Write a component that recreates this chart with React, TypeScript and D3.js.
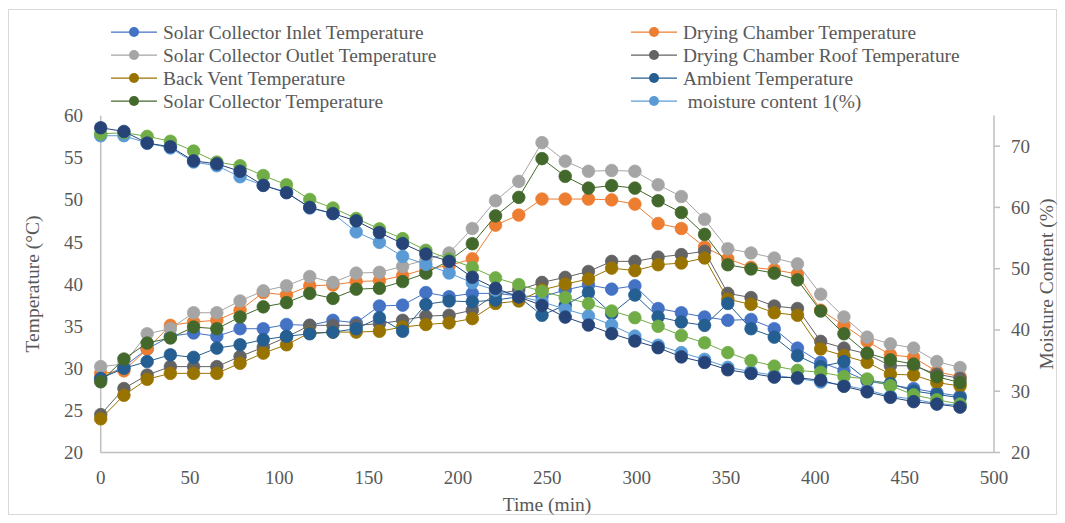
import React from 'react';
import * as d3 from 'd3';

// time axis (min)
const times = [0, 13, 26, 39, 52, 65, 78, 91, 104, 117, 130, 143, 156, 169, 182, 195, 208, 221, 234, 247,
  260, 273, 286, 299, 312, 325, 338, 351, 364, 377, 390, 403, 416, 429, 442, 455, 468, 481];

// temperatures (°C), left axis
const inletTemp = [28.8, 30.2, 32.3, 33.8, 34.2, 33.8, 34.7, 34.7, 35.2, 35.1, 35.7, 35.4, 37.4, 37.5, 39.0, 38.5, 38.9, 38.9, 38.6, 38.5,
  39.3, 39.9, 39.4, 39.8, 37.1, 36.6, 36.1, 35.7, 35.8, 34.7, 32.4, 30.7, 29.7, 28.5, 28.0, 27.6, 27.1, 26.7];
const chamberTemp = [29.4, 29.7, 32.3, 35.1, 35.5, 35.7, 36.9, 39.0, 38.7, 39.8, 39.9, 40.3, 40.4, 41.0, 41.8, 42.2, 43.0, 47.0, 48.2, 50.1,
  50.1, 50.1, 50.0, 49.5, 47.2, 46.6, 44.4, 43.0, 42.0, 41.7, 41.2, 36.9, 35.1, 33.2, 31.6, 31.3, 29.6, 29.0];
const outletTemp = [30.2, 30.5, 34.1, 34.7, 36.6, 36.6, 38.0, 39.2, 39.8, 40.9, 40.2, 41.3, 41.4, 42.1, 42.9, 43.7, 46.6, 49.9, 52.2, 56.8,
  54.6, 53.4, 53.5, 53.4, 51.8, 50.4, 47.7, 44.2, 43.7, 43.1, 42.4, 38.8, 36.1, 33.7, 32.9, 32.4, 30.8, 30.1];
const roofTemp = [24.5, 27.6, 29.2, 30.2, 30.2, 30.2, 31.4, 32.5, 33.7, 35.1, 35.1, 35.1, 35.3, 35.7, 36.2, 36.3, 36.9, 38.8, 39.3, 40.2,
  40.8, 41.5, 42.7, 42.7, 43.2, 43.5, 43.9, 38.9, 38.4, 37.4, 37.1, 33.2, 32.4, 31.7, 30.3, 30.3, 29.3, 28.8];
const backVentTemp = [24.0, 26.8, 28.7, 29.4, 29.4, 29.4, 30.6, 31.8, 32.8, 34.2, 34.3, 34.3, 34.4, 34.9, 35.2, 35.4, 35.9, 37.7, 38.0, 39.3,
  40.0, 40.6, 41.9, 41.6, 42.3, 42.5, 43.1, 38.2, 37.6, 36.6, 36.3, 32.3, 31.5, 30.7, 29.3, 29.2, 28.3, 27.9];
const ambientTemp = [28.8, 30.0, 30.8, 31.6, 31.3, 32.4, 32.8, 33.4, 33.8, 34.1, 34.3, 34.7, 36.0, 34.4, 37.6, 38.0, 37.9, 38.1, 38.5, 36.3,
  37.5, 39.0, 36.5, 38.7, 36.1, 35.5, 35.1, 37.7, 34.7, 33.7, 31.5, 30.2, 30.8, 28.6, 28.2, 27.3, 26.9, 26.5];
const collectorTemp = [28.4, 31.1, 33.0, 33.6, 34.9, 34.7, 36.1, 37.3, 37.8, 38.9, 38.3, 39.4, 39.5, 40.3, 41.3, 42.8, 44.8, 48.1, 50.3, 54.9,
  52.8, 51.4, 51.7, 51.4, 49.9, 48.5, 45.9, 42.3, 41.8, 41.3, 40.5, 36.8, 34.1, 31.8, 31.0, 30.5, 29.0, 28.3];

// moisture content (%), right axis
const moisture1 = [71.7, 71.7, 70.5, 69.7, 67.4, 66.8, 65.0, 63.6, 62.5, 59.9, 59.0, 56.0, 54.3, 52.0, 50.7, 49.3, 47.7, 46.5, 45.5, 44.6,
  43.4, 42.3, 40.8, 39.0, 37.5, 36.3, 35.2, 33.9, 33.2, 32.6, 32.1, 31.5, 31.0, 30.2, 29.2, 28.7, 28.0, 27.7];
const moisture2 = [72.0, 72.2, 71.6, 70.8, 69.2, 67.4, 66.8, 65.2, 63.7, 61.3, 59.9, 58.2, 56.5, 54.9, 53.0, 51.6, 50.2, 48.5, 47.4, 46.3,
  45.3, 44.3, 43.1, 42.0, 40.6, 39.1, 37.9, 36.3, 35.0, 34.1, 33.4, 33.1, 32.4, 32.0, 30.9, 29.4, 28.6, 27.9];
const moisture3 = [73.0, 72.4, 70.5, 69.9, 67.6, 67.1, 65.9, 63.6, 62.4, 60.0, 59.0, 57.8, 55.9, 54.1, 52.4, 51.2, 48.6, 46.8, 45.4, 44.0,
  42.1, 40.8, 39.4, 38.2, 37.1, 35.6, 34.7, 33.5, 32.9, 32.3, 32.2, 31.8, 30.8, 29.9, 29.0, 28.3, 27.9, 27.4];

const xTicks = [0, 50, 100, 150, 200, 250, 300, 350, 400, 450, 500];
const leftTicks = [20, 25, 30, 35, 40, 45, 50, 55, 60];
const rightTicks = [20, 30, 40, 50, 60, 70];

type Series = { name: string; values: number[]; color: string; axis: 'left' | 'right'; legend: boolean };

const series: Series[] = [
  { name: 'Solar Collector Inlet Temperature', values: inletTemp, color: '#4472C4', axis: 'left', legend: true },
  { name: 'Drying Chamber Temperature', values: chamberTemp, color: '#ED7D31', axis: 'left', legend: true },
  { name: 'Solar Collector Outlet Temperature', values: outletTemp, color: '#A5A5A5', axis: 'left', legend: true },
  { name: 'Drying Chamber Roof Temperature', values: roofTemp, color: '#636363', axis: 'left', legend: true },
  { name: 'Back Vent Temperature', values: backVentTemp, color: '#997300', axis: 'left', legend: true },
  { name: 'Ambient Temperature', values: ambientTemp, color: '#255E91', axis: 'left', legend: true },
  { name: 'Solar Collector Temperature', values: collectorTemp, color: '#43682B', axis: 'left', legend: true },
  { name: ' moisture content 1(%)', values: moisture1, color: '#5B9BD5', axis: 'right', legend: true },
  { name: 'moisture content 2(%)', values: moisture2, color: '#70AD47', axis: 'right', legend: false },
  { name: 'moisture content 3(%)', values: moisture3, color: '#264478', axis: 'right', legend: false },
];

const W = 1065;
const H = 523;
const textColor = '#595959';
const axisColor = '#BFBFBF';
const font = '"Liberation Serif", "Times New Roman", serif';

export default function App() {
  const x = d3.scaleLinear().domain([0, 500]).range([100.7, 994]);
  const yL = d3.scaleLinear().domain([20, 60]).range([452.5, 115.7]);
  const yR = d3.scaleLinear().domain([20, 75]).range([452.5, 115.5]);

  const legendItems = series.filter((s) => s.legend);

  return (
    <svg width={W} height={H} style={{ position: 'absolute', left: 0, top: 0, background: '#fff' }} fontFamily={font}>
      <rect x={8.5} y={9.5} width={1048} height={505} fill="#fff" stroke="#D9D9D9" strokeWidth={1} />

      {/* axes */}
      <line x1={x(0)} x2={x(0)} y1={yL(60)} y2={yL(20)} stroke={axisColor} strokeWidth={1.5} />
      <line x1={x(0)} x2={x(500)} y1={yL(20)} y2={yL(20)} stroke={axisColor} strokeWidth={1.5} />
      <line x1={x(500)} x2={x(500)} y1={yR(75)} y2={yR(20)} stroke={axisColor} strokeWidth={1.5} />
      {rightTicks.map((t) => (
        <line key={'rt' + t} x1={x(500)} x2={x(500) + 6} y1={yR(t)} y2={yR(t)} stroke={axisColor} strokeWidth={1.5} />
      ))}

      {/* tick labels */}
      {leftTicks.map((t) => (
        <text key={'l' + t} x={83} y={yL(t) + 6.5} textAnchor="end" fontSize={19} fill={textColor}>{t}</text>
      ))}
      {rightTicks.map((t) => (
        <text key={'r' + t} x={1011} y={yR(t) + 6.5} textAnchor="start" fontSize={19} fill={textColor}>{t}</text>
      ))}
      {xTicks.map((t) => (
        <text key={'x' + t} x={x(t)} y={483.5} textAnchor="middle" fontSize={19} fill={textColor}>{t}</text>
      ))}

      {/* axis titles */}
      <text transform={`translate(39,284) rotate(-90)`} textAnchor="middle" fontSize={19.5} fill={textColor}>Temperature (°C)</text>
      <text transform={`translate(1053,284) rotate(-90)`} textAnchor="middle" fontSize={19.5} fill={textColor}>Moisture Content (%)</text>
      <text x={547} y={511} textAnchor="middle" fontSize={19.5} fill={textColor}>Time (min)</text>

      {/* series */}
      {series.map((s) => {
        const y = s.axis === 'left' ? yL : yR;
        const line = d3.line<number>().x((_, i) => x(times[i])).y((d) => y(d));
        return (
          <g key={s.name}>
            <path d={line(s.values) || ''} fill="none" stroke={s.color} strokeWidth={1} />
            {s.values.map((v, i) => (
              <circle key={i} cx={x(times[i])} cy={y(v)} r={6.3} fill={s.color} stroke={s.color} strokeWidth={0.75} />
            ))}
          </g>
        );
      })}

      {/* legend */}
      {legendItems.map((s, i) => {
        const col = i % 2;
        const row = Math.floor(i / 2);
        const lx = col === 0 ? 111 : 631;
        const ly = 32 + row * 23;
        return (
          <g key={'lg' + i}>
            <line x1={lx} x2={lx + 46} y1={ly} y2={ly} stroke={s.color} strokeWidth={1.25} />
            <circle cx={lx + 23} cy={ly} r={5} fill={s.color} />
            <text x={lx + 52} y={ly + 6.5} fontSize={19.4} fill={textColor} style={{ whiteSpace: 'pre' }}>{s.name}</text>
          </g>
        );
      })}
    </svg>
  );
}
